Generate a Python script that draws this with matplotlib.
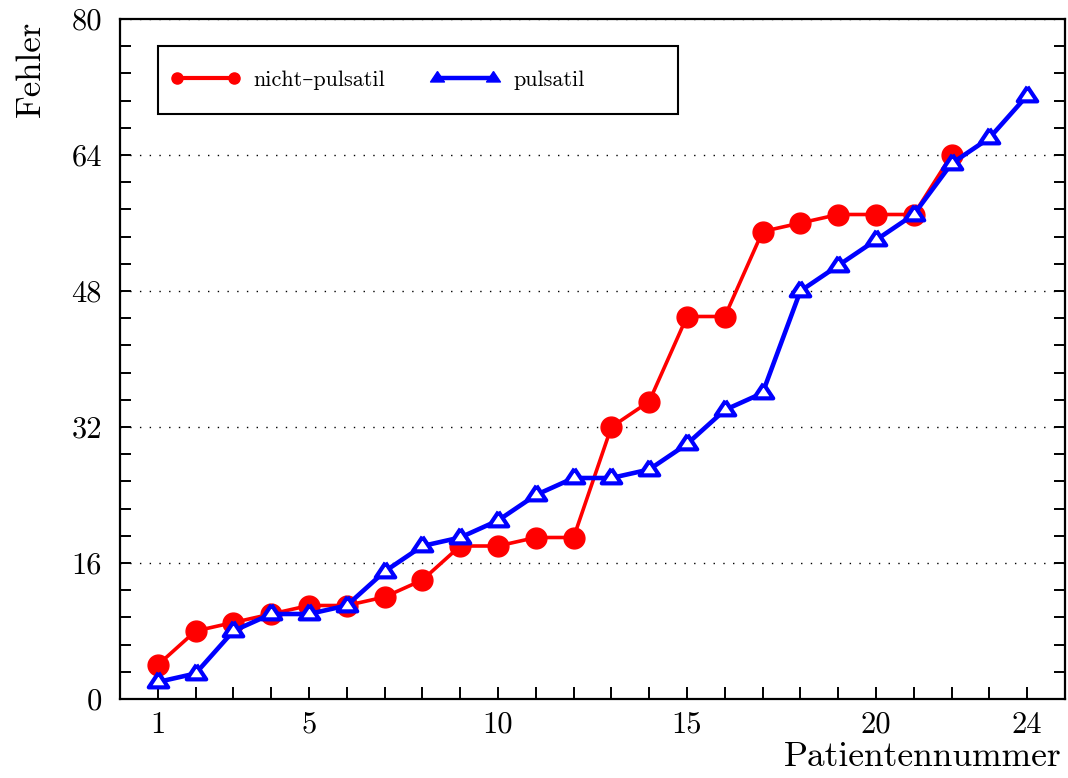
import matplotlib
matplotlib.use("Agg")
import matplotlib.pyplot as plt
from matplotlib.lines import Line2D
from matplotlib.patches import Rectangle
from matplotlib.ticker import MultipleLocator, FixedLocator

plt.rcParams['font.family'] = ['cmr10', 'DejaVu Serif']
plt.rcParams['mathtext.fontset'] = 'cm'
plt.rcParams['axes.formatter.use_mathtext'] = True
plt.rcParams['axes.unicode_minus'] = False

# ---- data ----
patients_np = list(range(1, 23))
fehler_np = [4, 8, 9, 10, 11, 11, 12, 14, 18, 18, 19, 19, 32, 35, 45, 45, 55, 56, 57, 57, 57, 64]
patients_p = list(range(1, 25))
fehler_p = [2, 3, 8, 10, 10, 11, 15, 18, 19, 21, 24, 26, 26, 27, 30, 34, 36, 48, 51, 54, 57, 63, 66, 71]
xtick_labels = [1, 5, 10, 15, 20, 24]
ytick_labels = [0, 16, 32, 48, 64, 80]
series_names = ['nicht–pulsatil', 'pulsatil']

# triangle centred on its centroid
tri = [(0, 1), (-1, -0.5), (1, -0.5), (0, 1)]

fig = plt.figure(figsize=(10.68, 7.78), dpi=100)
ax = fig.add_axes([120/1068, 79/778, 945/1068, 680/778])

ax.plot(patients_np, fehler_np, color='#ff0000', lw=2.6, marker='o', ms=15,
        mec='#ff0000', mfc='#ff0000', zorder=3)
ax.plot(patients_p, fehler_p, color='#0000ff', lw=3.3, marker=tri, ms=14,
        mec='#0000ff', mfc='white', mew=3.0, zorder=4)

ax.set_xlim(0, 25)
ax.set_ylim(0, 80)

ax.xaxis.set_major_locator(FixedLocator(list(range(1, 25))))
ax.set_xticklabels([str(i) if i in xtick_labels else '' for i in range(1, 25)])
ax.yaxis.set_major_locator(FixedLocator(ytick_labels))
ax.set_yticklabels([str(v) for v in ytick_labels])
ax.yaxis.set_minor_locator(MultipleLocator(3.2))

ax.tick_params(axis='x', which='both', direction='in', length=8.5, width=1.4,
               top=False, bottom=True, labelsize=22, pad=9)
ax.tick_params(axis='y', which='both', direction='in', length=8, width=1.4,
               left=True, right=True, labelsize=22, pad=13)
for s in ax.spines.values():
    s.set_linewidth(1.6)

ax.yaxis.grid(True, which='major', color='black', lw=1.0, linestyle=(0, (1, 6)))
ax.set_axisbelow(True)

ax.set_xlabel('Patientennummer', fontsize=25.5, loc='right')
ax.xaxis.set_label_coords(0.996, -0.063)
ax.set_ylabel('Fehler', fontsize=25, loc='top')
ax.yaxis.set_label_coords(-0.077, 0.997)

# legend frame
rect = Rectangle((38/945, 585/680), 520/945, 68/680, transform=ax.transAxes,
                 facecolor='white', edgecolor='black', lw=1.5, zorder=5)
ax.add_patch(rect)

handles = [
    Line2D([], [], color='#ff0000', lw=3.0, marker='o', ms=8, mfc='#ff0000', mec='#ff0000'),
    Line2D([], [], color='#0000ff', lw=3.2, marker=tri, ms=10, mfc='#0000ff', mec='#0000ff'),
]
leg = ax.legend(handles, series_names, loc='center left',
                bbox_to_anchor=(50.4/945, 619/680), ncol=2, frameon=False,
                borderpad=0, borderaxespad=0, handlelength=3.15, handletextpad=0.6,
                columnspacing=2.0, numpoints=2, prop={'size': 16})
leg.set_zorder(6)

fig.savefig('out.png', dpi=100)
